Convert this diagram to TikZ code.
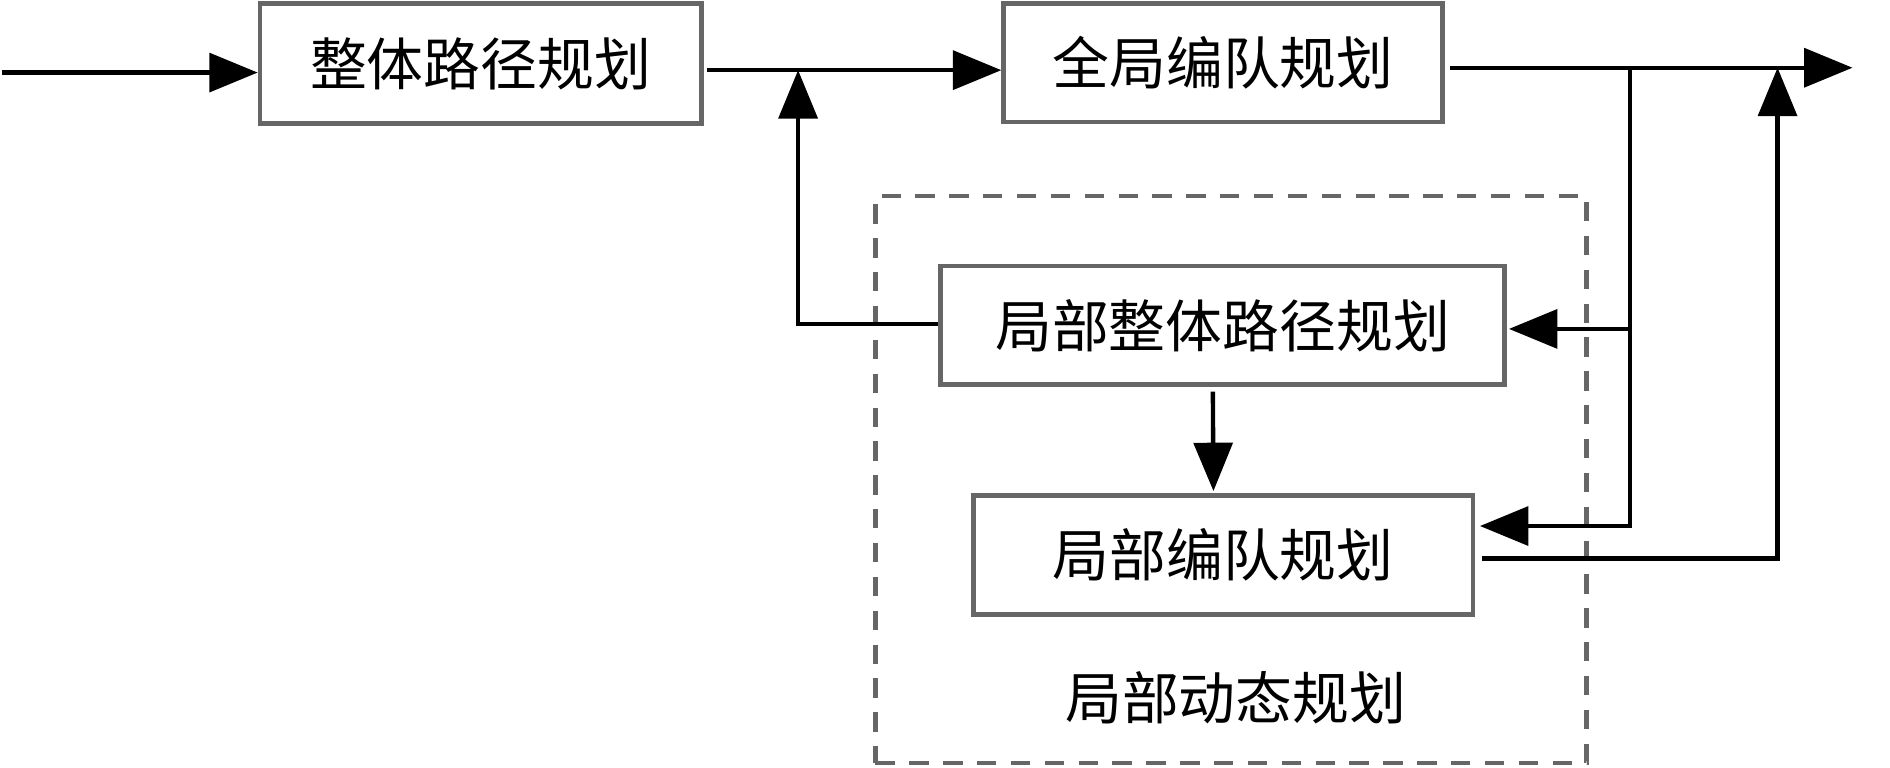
\documentclass[tikz,border=0pt]{standalone}
\usepackage{fontspec}
\newfontfamily\cjk{Noto Sans CJK SC}
\usetikzlibrary{arrows.meta}
\begin{document}
\begin{tikzpicture}[x=0.5pt,y=-0.5pt,
  blk/.style={draw=black!60,line width=1.9pt,rectangle,inner sep=0pt,
    font=\cjk\fontsize{23.5pt}{28pt}\selectfont},
  conn/.style={line width=1.8pt,black},
  arr/.style={conn,-{Triangle[length=20pt,width=16pt]}},
  grp/.style={draw=black!60,line width=1.7pt,dash pattern=on 8pt off 6pt},
  lbl/.style={font=\cjk\fontsize{23.5pt}{28pt}\selectfont}]
\useasboundingbox (0,0) rectangle (1563,634.3);
% frame of the group
\node[grp,minimum width=294pt,minimum height=234.5pt,inner sep=0pt] (grp) at (1018,396.5) {};
\node[lbl] (glbl) at (1022,577) {局部动态规划};
% blocks
\node[blk,minimum width=182.5pt,minimum height=49.5pt] (b1) at (397.5,52.5) {整体路径规划};
\node[blk,minimum width=181.5pt,minimum height=49pt] (b2) at (1011.5,52) {全局编队规划};
\node[blk,minimum width=233pt,minimum height=49pt] (b3) at (1011,269) {局部整体路径规划};
\node[blk,minimum width=206.5pt,minimum height=49pt] (b4) at (1011.5,459) {局部编队规划};
% coordinates
\coordinate (in) at (2,60);
\coordinate (m1) at (585,58);
\coordinate (out) at (1532,56);
\coordinate (j1) at (1348,56);
\coordinate (j3) at (1348,272);
\coordinate (j4) at (1348,435);
\coordinate (fb) at (660,268);
\coordinate (fbtop) at (660,58);
\coordinate (o4) at (1470,462);
\coordinate (o4top) at (1470,56);
% connectors
\draw[arr] (in) -- (in -| b1.west);
\draw[arr] (m1) -- (m1 -| b2.west);
\draw[arr] ([xshift=2pt]b2.east |- out) -- (out);
\draw[conn] (j1) -- (j4);
\draw[arr] (j3) -- ([xshift=1pt]j3 -| b3.east);
\draw[arr] ([xshift=0.9pt]j4) -- ([xshift=2pt]j4 -| b4.east);
\draw[arr] (b3.west |- fb) -- (fb) -- (fbtop);
\draw[arr] ([xshift=3pt]o4 -| b4.east) -- (o4) -- (o4top);
\draw[arr] ([xshift=-4pt,yshift=-2pt]b3.south) -- ([xshift=-4pt,yshift=1pt]b4.north);
\end{tikzpicture}
\end{document}
